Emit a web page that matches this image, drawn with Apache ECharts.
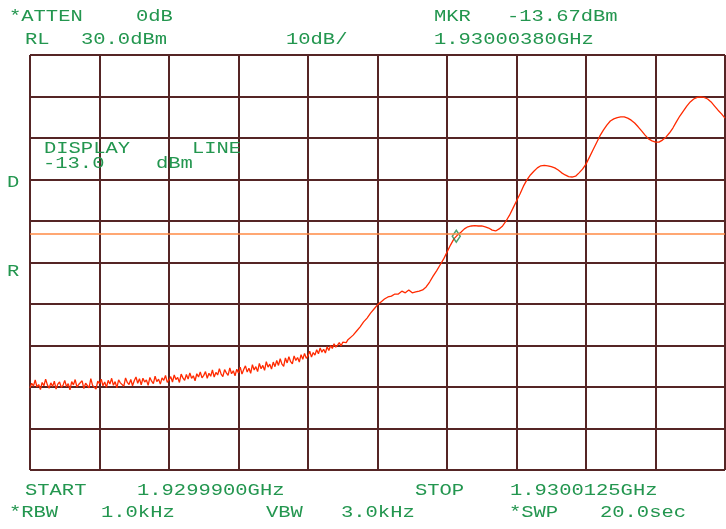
<!DOCTYPE html>
<html>
<head>
<meta charset="utf-8">
<script src="https://cdn.jsdelivr.net/npm/echarts@6/dist/echarts.min.js"></script>
<style>
html,body{margin:0;padding:0;background:#fff;}
#c{width:726px;height:529px;}
</style>
</head>
<body>
<div id="c"></div>
<script>
// ---- data ----
const startGHz = '1.9299900GHz';
const stopGHz = '1.9300125GHz';
const spanKHz = 22.5;            // stop - start
const sweepPoints = 401;
const refLevel = 30;             // dBm (top)
const dbPerDiv = 10;
const displayLine = -13.0;       // dBm
const mkrFreqKHz = 13.8;         // 1.93000380 GHz - start
const mkrLevel = -13.67;         // dBm
// noisy low part: sweep points 0..184 (dBm)
const noiseTrace = [
-50.2,-49.1,-49.8,-48.3,-50.0,-49.4,-50.6,-48.9,-49.7,-48.1,-49.5,-50.3,-49.0,-49.9,-48.6,-50.5,-49.3,-48.8,-50.1,-49.6,
-48.4,-49.9,-49.2,-50.7,-48.7,-49.5,-48.2,-50.0,-49.4,-49.8,-48.5,-50.4,-49.1,-48.9,-50.2,-48.0,-49.6,-49.3,-50.5,-48.6,
-49.2,-48.1,-49.7,-48.8,-50.1,-48.4,-49.3,-47.9,-49.6,-48.7,-50.2,-48.3,-49.0,-48.6,-49.8,-47.8,-48.9,-49.4,-48.2,-49.7,
-48.5,-47.6,-49.1,-48.0,-49.5,-47.9,-48.8,-48.3,-49.6,-47.7,-48.6,-49.2,-47.4,-48.7,-48.1,-49.3,-47.8,-48.4,-47.2,-48.9,
-48.3,-47.5,-48.8,-47.1,-48.2,-47.7,-48.9,-46.9,-47.8,-48.4,-47.0,-48.1,-46.6,-47.9,-47.3,-48.5,-46.8,-47.6,-46.4,-47.8,
-47.2,-46.3,-47.9,-46.7,-47.4,-45.9,-47.6,-46.5,-47.1,-45.6,-46.9,-47.5,-45.8,-46.6,-47.2,-45.4,-46.8,-46.1,-47.3,-45.7,
-46.6,-45.2,-46.9,-45.8,-44.9,-46.4,-45.5,-46.7,-44.6,-45.9,-45.1,-46.3,-44.3,-45.6,-44.8,-46.0,-43.9,-45.2,-44.5,-45.7,
-44.0,-45.1,-43.6,-44.8,-43.2,-44.5,-45.0,-43.0,-44.2,-42.7,-43.9,-44.4,-42.5,-43.6,-42.9,-44.0,-42.2,-43.3,-41.9,-43.1,
-42.5,-41.4,-42.8,-41.7,-42.3,-41.0,-42.0,-40.6,-41.6,-40.9,-41.8,-40.3,-41.2,-40.0,-40.7,-39.6,-40.4,-39.9,-39.3,-40.1,
-39.2,-38.8,-39.3,-38.6,-38.4
];
// smooth upper part: every 2nd sweep point from 186 to 400 (dBm)
const upperTrace = [
-37.5,-36.5,-35.5,-34.3,-33.4,-32.2,-31.2,
-30.2,-29.5,-28.8,-28.3,-28.1,-27.6,-27.6,-26.9,-27.3,-26.6,
-27.3,-27.1,-26.9,-26.6,-25.9,-24.7,-23.3,-22.0,-20.6,-19.2,
-17.5,-15.8,-14.3,-13.4,-12.7,-11.9,-11.4,-11.2,-11.1,-11.2,
-11.2,-11.4,-11.7,-12.2,-12.4,-11.9,-11.2,-10.0,-8.6,-6.9,
-5.2,-3.5,-1.6,-0.1,1.1,2.0,2.8,3.3,3.4,3.3,
3.1,2.8,2.3,1.6,1.1,0.7,0.6,0.8,1.6,2.5,
3.7,5.4,7.1,8.8,10.5,11.9,13.1,14.1,14.6,14.9,
15.1,15.1,14.8,14.3,13.6,12.7,11.7,10.7,9.8,9.3,
9.0,9.0,9.5,10.2,11.2,12.4,13.9,15.3,16.5,17.7,
18.7,19.4,19.8,19.9,19.8,19.4,18.7,17.7,16.7,15.8,
14.8
];
// annotation texts
const hdrTexts = [
  ['*ATTEN', 9, 16.5], ['0dB', 136, 16.5], ['MKR', 434, 16.5], ['-13.67dBm', 507, 16.5],
  ['RL', 25, 40], ['30.0dBm', 81, 40], ['10dB/', 286, 40], ['1.93000380GHz', 434, 40],
  ['DISPLAY', 44, 149], ['LINE', 192, 149], ['-13.0', 43, 164], ['dBm', 156, 164],
  ['D', 7, 183], ['R', 7, 272],
  ['START', 25, 491], [startGHz, 137, 491], ['STOP', 415, 491], [stopGHz, 510, 491],
  ['*RBW', 9, 512.5], ['1.0kHz', 101, 512.5], ['VBW', 266, 512.5], ['3.0kHz', 341, 512.5],
  ['*SWP', 509, 512.5], ['20.0sec', 600, 512.5]
];

// ---- chart ----
const step = spanKHz / (sweepPoints - 1);
const traceData = noiseTrace.map((v, j) => [j * step, v])
  .concat(upperTrace.map((v, k) => [(186 + 2 * k) * step, v]));
const green = '#23964f';
const gridCol = '#552525';

const chart = echarts.init(document.getElementById('c'), null, {renderer: 'canvas'});
chart.setOption({
  animation: false,
  backgroundColor: '#ffffff',
  grid: {left: 30, right: 1, top: 55, bottom: 59, containLabel: false},
  xAxis: {
    type: 'value', min: 0, max: spanKHz, interval: spanKHz / 10,
    axisLine: {show: false}, axisTick: {show: false}, axisLabel: {show: false},
    splitLine: {show: true, showMinLine: true, showMaxLine: true, lineStyle: {color: gridCol, width: 2}}
  },
  yAxis: {
    type: 'value', min: refLevel - 10 * dbPerDiv, max: refLevel, interval: dbPerDiv,
    axisLine: {show: false}, axisTick: {show: false}, axisLabel: {show: false},
    splitLine: {show: true, showMinLine: true, showMaxLine: true, lineStyle: {color: gridCol, width: 2}}
  },
  series: [
    {
      type: 'line', data: traceData, showSymbol: false, symbol: 'none',
      lineStyle: {color: '#ff2a00', width: 1.3}, z: 3,
      markLine: {
        silent: true, symbol: ['none', 'none'], label: {show: false},
        lineStyle: {color: '#ff8a45', width: 1.5, type: 'solid'},
        data: [{yAxis: displayLine}]
      }
    },
    {
      type: 'scatter', data: [[mkrFreqKHz, mkrLevel]], symbol: 'diamond', symbolSize: [8, 12],
      itemStyle: {color: 'rgba(0,0,0,0)', borderColor: '#1f8a4a', borderWidth: 1.5}, z: 4
    }
  ],
  graphic: hdrTexts.map(t => ({
    type: 'text', x: t[1], y: t[2], scaleX: 1.28, scaleY: 1,
    style: {text: t[0], x: 0, y: 0, fill: green, font: '16px "Liberation Mono", monospace', verticalAlign: 'middle', align: 'left'},
    z: 10
  }))
});
</script>
</body>
</html>
